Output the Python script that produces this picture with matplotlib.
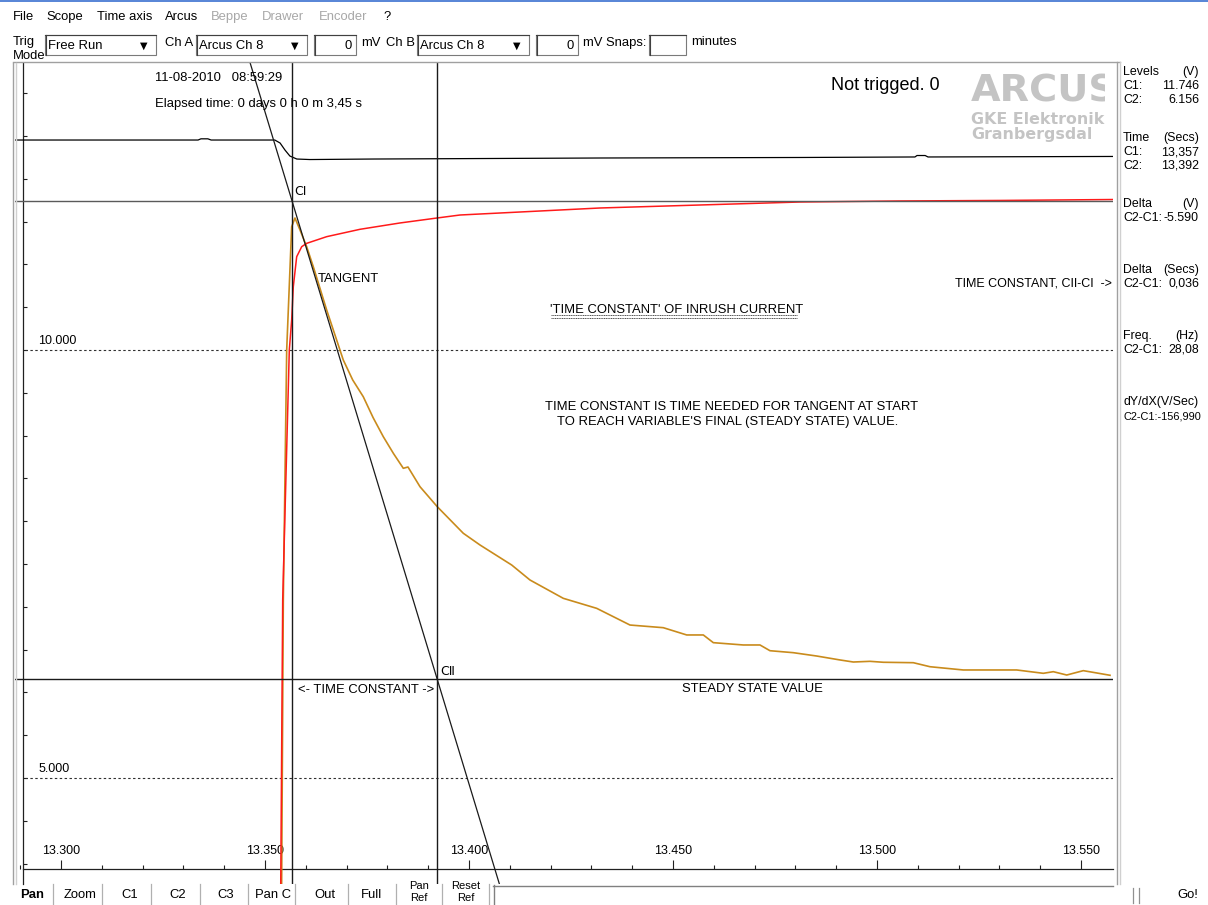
import matplotlib
matplotlib.use('Agg')
import matplotlib.pyplot as plt
from matplotlib.lines import Line2D
from matplotlib.patches import Rectangle
from matplotlib.transforms import Bbox
from matplotlib.ticker import MultipleLocator, FormatStrFormatter
import numpy as np

# ---------------- data ----------------
black_t = [13.2887, 13.3336, 13.3343, 13.3360, 13.3368, 13.3524, 13.3537, 13.3549,
           13.3561, 13.3578, 13.3610, 13.3765, 13.4321, 13.4811, 13.5093, 13.5098,
           13.5118, 13.5125, 13.5578]
black_v = [12.453, 12.453, 12.467, 12.467, 12.453, 12.453, 12.418, 12.336,
           12.266, 12.231, 12.225, 12.231, 12.243, 12.249, 12.255, 12.272,
           12.272, 12.255, 12.261]

red_t = [13.3537, 13.35385, 13.35434, 13.35596, 13.35654, 13.35694, 13.35777, 13.35900,
         13.36022, 13.36512, 13.37328, 13.38309, 13.39216, 13.39779, 13.43211, 13.45662,
         13.48113, 13.50564, 13.53015, 13.55784]
red_v = [3.0, 3.69, 7.079, 10.0, 10.350, 10.740, 11.090, 11.207,
         11.246, 11.324, 11.410, 11.484, 11.542, 11.577, 11.659, 11.694,
         11.729, 11.741, 11.747, 11.758]

orange_t = [13.3539, 13.35409, 13.35449, 13.35532, 13.35654, 13.35735, 13.35858, 13.36022,
            13.36184, 13.36512, 13.36919, 13.37150, 13.37409, 13.37650, 13.37900, 13.38150,
            13.38390, 13.38505, 13.38799,
            13.39223, 13.39860, 13.40270, 13.41047, 13.41495, 13.42311, 13.43130, 13.43946,
            13.44762, 13.45336, 13.45743, 13.45988, 13.46723, 13.47132, 13.47377, 13.47949,
            13.48522, 13.49093, 13.49419, 13.49828, 13.50154, 13.50890, 13.51299, 13.52115,
            13.53424, 13.54076, 13.54321, 13.54650, 13.55056, 13.55301, 13.55711]
orange_v = [3.0, 3.808, 7.079, 10.0, 11.440, 11.542, 11.402, 11.207,
            10.973, 10.467, 9.883, 9.650, 9.454, 9.210, 8.987, 8.790,
            8.618, 8.633, 8.403,
            8.169, 7.859, 7.722, 7.488, 7.313, 7.099, 6.982, 6.787,
            6.756, 6.671, 6.671, 6.581, 6.554, 6.554, 6.487, 6.464,
            6.425, 6.379, 6.355, 6.363, 6.352, 6.347, 6.300, 6.262,
            6.262, 6.223, 6.242, 6.203, 6.254, 6.234, 6.200]

cursor_times = [13.3566, 13.3922]
cursor_levels = [11.746, 6.156]
tangent_t = [13.3566, 13.3922]
tangent_v = [11.746, 6.156]
ref_levels = [10.0, 5.0]
ref_labels = ['10.000', '5.000']

x_limits = (13.28873, 13.55784)
y_limits = (3.7617, 13.3528)
y_axis_pos = 13.29069
x_axis_pos = 3.937

menu_items = [("File", 13, False), ("Scope", 46, False), ("Time axis", 97, False),
              ("Arcus", 165, False), ("Beppe", 211, True), ("Drawer", 262, True),
              ("Encoder", 319, True), ("?", 383, False)]

panel_rows = [("Levels", "(V)", 72), ("C1:", "11.746", 86), ("C2:", "6.156", 100),
              ("Time", "(Secs)", 138), ("C1:", "13,357", 152), ("C2:", "13,392", 166),
              ("Delta", "(V)", 204), ("C2-C1:", "-5.590", 218),
              ("Delta", "(Secs)", 270), ("C2-C1:", "0,036", 284),
              ("Freq.", "(Hz)", 336), ("C2-C1:", "28,08", 350)]
panel_joined = [("dY/dX(V/Sec)", 402), ("C2-C1:-156,990", 416)]

buttons = [("Pan", 32), ("Zoom", 80), ("C1", 130), ("C2", 178), ("C3", 226),
           ("Pan C", 273), ("Out", 325), ("Full", 372)]
button_seps = [53, 102, 151, 200, 248, 295, 348, 396, 442, 489]

# ---------------- figure ----------------
W, H = 1208, 905
plt.rcParams['font.family'] = ['Liberation Sans', 'DejaVu Sans']
fig = plt.figure(figsize=(W / 100, H / 100), dpi=100)
fig.patch.set_facecolor('white')
FS = 9.4


def fx(x):
    return x / W


def fy(y):
    return 1 - y / H


def ftext(x, y, s, **kw):
    kw.setdefault('fontsize', FS)
    kw.setdefault('va', 'center')
    kw.setdefault('ha', 'left')
    return fig.text(fx(x), fy(y), s, **kw)


def fline(x0, y0, x1, y1, color='#808080', lw=0.8, **kw):
    fig.add_artist(Line2D([fx(x0), fx(x1)], [fy(y0), fy(y1)],
                          transform=fig.transFigure, color=color, lw=lw, **kw))


def frect(x0, y0, x1, y1, fc='white', ec='#7a7a7a', lw=0.8):
    fig.add_artist(Rectangle((fx(x0), fy(y1)), (x1 - x0) / W, (y1 - y0) / H,
                             transform=fig.transFigure, fc=fc, ec=ec, lw=lw))


ax = fig.add_axes([fx(15), fy(884), (1113 - 15) / W, (884 - 63) / H])
ax.set_xlim(*x_limits)
ax.set_ylim(*y_limits)
ax.set_facecolor('white')

for s in ('top', 'right'):
    ax.spines[s].set_visible(False)
ax.spines['left'].set_position(('data', y_axis_pos))
ax.spines['bottom'].set_position(('data', x_axis_pos))
ax.spines['bottom'].set_bounds(y_axis_pos, x_limits[1])
for s in ('left', 'bottom'):
    ax.spines[s].set_color('#202020')
    ax.spines[s].set_linewidth(0.9)

ax.xaxis.set_major_locator(MultipleLocator(0.05))
ax.xaxis.set_minor_locator(MultipleLocator(0.01))
ax.xaxis.set_major_formatter(FormatStrFormatter('%.3f'))
ax.tick_params(axis='x', which='major', direction='in', length=6.5, width=0.8,
               pad=-17, labelsize=9, color='#202020')
ax.tick_params(axis='x', which='minor', direction='in', length=3, width=0.8,
               color='#202020')
ax.yaxis.set_major_locator(MultipleLocator(0.5))
ax.tick_params(axis='y', which='major', direction='in', length=3, width=0.8,
               labelleft=False, color='#202020')

# reference dashed levels
for lv, lab in zip(ref_levels, ref_labels):
    ax.hlines(lv, y_axis_pos + 0.0005, x_limits[1], colors='#303030', lw=0.8,
              linestyles=(0, (2.2, 2.2)), zorder=2)
    ax.text(y_axis_pos + 0.0037, lv + 0.03, lab, fontsize=9, va='bottom', ha='left')

# curves
ax.plot(black_t, black_v, color='black', lw=0.9, zorder=3)
ax.plot(orange_t, orange_v, color='#C98B1C', lw=1.2, zorder=3)
ax.plot(red_t, red_v, color='#FF1A1A', lw=1.1, zorder=4)

# cursors
ax.axhline(cursor_levels[0], color='#5a5a5a', lw=1.0, zorder=5)
ax.axhline(cursor_levels[1], color='#1a1a1a', lw=1.0, zorder=5)
for ct in cursor_times:
    ax.axvline(ct, color='#1a1a1a', lw=1.0, zorder=5)
ax.axline((tangent_t[0], tangent_v[0]), (tangent_t[1], tangent_v[1]),
          color='#1a1a1a', lw=0.9, zorder=5)

# in-plot texts
ftext(155, 78, "11-08-2010   08:59:29")
ftext(155, 104, "Elapsed time: 0 days 0 h 0 m 3,45 s")
ftext(831, 86, "Not trigged. 0", fontsize=13)
t = ftext(971, 92, "ARCUS", fontsize=27.5, fontweight='bold', color='#C4C4C4',
          family='DejaVu Sans')
t.set_clip_on(True)
t.set_clip_box(Bbox.from_extents(15, H - 884, 1105, H - 63))
ftext(971, 120, "GKE Elektronik", fontsize=11.4, fontweight='bold', color='#C4C4C4',
      family='DejaVu Sans')
ftext(971, 135, "Granbergsdal", fontsize=11.4, fontweight='bold', color='#C4C4C4',
      family='DejaVu Sans')
ftext(294, 191, "C\u2160", fontsize=9, family=['DejaVu Sans', 'Noto Sans CJK SC'])
ftext(440, 671, "C\u2161", fontsize=9, family=['DejaVu Sans', 'Noto Sans CJK SC'])
ftext(318, 279, "TANGENT")
ftext(550, 310, "'TIME CONSTANT' OF INRUSH CURRENT")
fline(551, 315.5, 797, 315.5, color='#555555', lw=0.7, linestyle=(0, (1.2, 0.6)))
fline(551, 318, 797, 318, color='#555555', lw=0.7, linestyle=(0, (1.2, 0.6)))
ftext(545, 407, "TIME CONSTANT IS TIME NEEDED FOR TANGENT AT START")
ftext(557, 422, "TO REACH VARIABLE'S FINAL (STEADY STATE) VALUE.")
ftext(1112, 283, "TIME CONSTANT, CII-CI  ->", ha='right', fontsize=9.0)
ftext(298, 690, "<- TIME CONSTANT ->")
ftext(682, 689, "STEADY STATE VALUE")

# frame / borders
fline(13, 62, 1120, 62, color='#a0a0a0', lw=1.0)
fline(13, 63, 13, 884, color='#a0a0a0', lw=1.0)
fline(15.5, 63, 15.5, 884, color='#d0d0d0', lw=1.0)
fline(1117, 62, 1117, 884, color='#a0a0a0', lw=1.0)
fline(1119.5, 62, 1119.5, 884, color='#d0d0d0', lw=1.0)
fline(0, 1.5, W, 1.5, color='#3a6fd0', lw=1.2)

# menu
for name, x, grey in menu_items:
    ftext(x, 17, name, color='#a8a8a8' if grey else 'black')

# toolbar
ftext(13, 42, "Trig")
ftext(13, 56, "Mode")


def combo(x0, x1, text):
    frect(x0, 35, x1, 55, ec='#7a7a7a')
    fline(x0, 35.5, x1, 35.5, color='#404040', lw=0.8)
    fline(x0 + 0.5, 35, x0 + 0.5, 55, color='#404040', lw=0.8)
    ftext(x0 + 3, 46, text)
    ftext(x1 - 12, 46, "\u25BC", fontsize=7, ha='center', family='DejaVu Sans')


def field(x0, x1, text):
    frect(x0, 35, x1, 55, ec='#7a7a7a')
    fline(x0, 35.5, x1, 35.5, color='#404040', lw=0.8)
    fline(x0 + 0.5, 35, x0 + 0.5, 55, color='#404040', lw=0.8)
    if text:
        ftext(x1 - 4, 46, text, ha='right')


combo(45, 156, "Free Run")
ftext(165, 43, "Ch A")
combo(196, 307, "Arcus Ch 8")
field(314, 356, "0")
ftext(361, 43, "mV")
ftext(386, 43, "Ch B")
combo(417, 529, "Arcus Ch 8")
field(536, 578, "0")
ftext(583, 43, "mV Snaps:")
field(649, 686, "")
ftext(691, 42, "minutes")

# right panel
for lab, val, y in panel_rows:
    ftext(1123, y, lab, fontsize=8.9)
    ftext(1199, y, val, ha='right', fontsize=8.9)
ftext(1123, panel_joined[0][1], panel_joined[0][0], fontsize=8.9)
ftext(1123, panel_joined[1][1], panel_joined[1][0], fontsize=7.9)

# bottom buttons
for name, x in buttons:
    ftext(x, 895, name, ha='center', fontweight='bold' if name == 'Pan' else 'normal')
for sx in button_seps:
    fline(sx, 884, sx, 905, color='#b0b0b0', lw=0.9)
ftext(419, 886, "Pan", ha='center', fontsize=8)
ftext(419, 898, "Ref", ha='center', fontsize=8)
ftext(466, 886, "Reset", ha='center', fontsize=8)
ftext(466, 898, "Ref", ha='center', fontsize=8)
fline(493, 885.5, 1113, 885.5, color='#808080', lw=1.0)
fline(493.5, 885, 493.5, 905, color='#808080', lw=1.0)
fline(1133, 888, 1133, 903, color='#909090', lw=0.9)
fline(1139, 888, 1139, 903, color='#909090', lw=0.9)
ftext(1188, 895, "Go!", ha='center')

fig.savefig('out.png', dpi=100, facecolor='white')
